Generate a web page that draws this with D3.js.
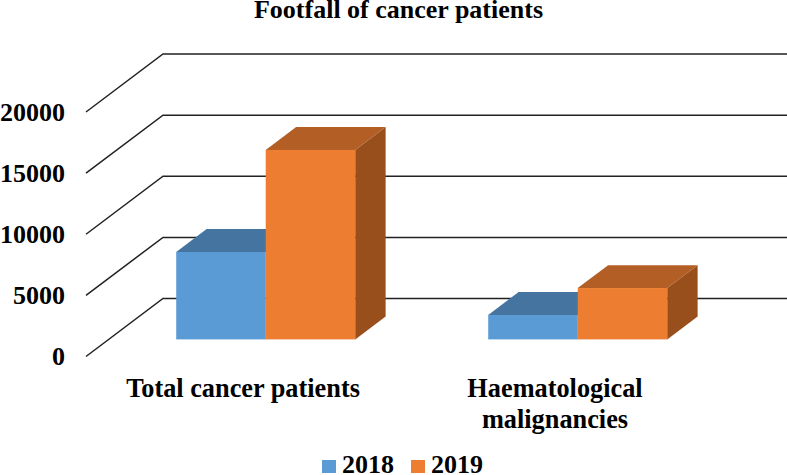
<!DOCTYPE html>
<html>
<head>
<meta charset="utf-8">
<script src="https://cdn.jsdelivr.net/npm/d3@7"></script>
<style>
body { margin: 0; background: #fff; }
svg { display: block; }
text { font-family: "Liberation Serif", serif; font-weight: bold; fill: #000; }
</style>
</head>
<body>
<script>
var categories = ["Total cancer patients", "Haematological malignancies"];
var seriesNames = ["2018", "2019"];
var values2018 = [7150, 2000];
var values2019 = [15500, 4200];
var yTicks = [0, 5000, 10000, 15000, 20000];
var frontColors = ["#5b9bd5", "#ed7d31"];
var topColors = ["#44749f", "#b25e25"];
var sideColors = ["#3e6b94", "#984f1c"];

var width = 787, height = 475;
var svg = d3.select("body").append("svg").attr("width", width).attr("height", height);

var y = d3.scaleLinear().domain([0, 20000]).range([356.5, 112]);
var x0 = d3.scaleBand().domain(categories).range([87, 711]);
var x1 = d3.scaleBand().domain(seriesNames).range([0, x0.bandwidth()]).paddingOuter(0.743).paddingInner(0);
// depth goes 0 (front of floor) to 1 (back wall)
var depthX = d3.scaleLinear().domain([0, 1]).range([0, 77]);
var depthY = d3.scaleLinear().domain([0, 1]).range([0, -58]);
var barFront = 0.295, barBack = 0.69;

// walls
var grid = svg.append("g");
yTicks.forEach(function (t) {
    grid.append("path")
        .attr("d", d3.line()([
            [x0.range()[0] - 1, y(t)],
            [x0.range()[0] - 1 + depthX(1), y(t) + depthY(1)],
            [x0.range()[1] + depthX(1) - 1, y(t) + depthY(1)]
        ]))
        .attr("fill", "none").attr("stroke", "#222").attr("stroke-width", 1.5);
});

// bars
var bars = svg.append("g");
categories.forEach(function (cat, i) {
    [values2018[i], values2019[i]].forEach(function (v, s) {
        var left = x0(cat) + x1(seriesNames[s]) + depthX(barFront);
        var right = left + x1.bandwidth();
        var base = y(0) + depthY(barFront);
        var top = y(v) + depthY(barFront);
        var dx = depthX(barBack) - depthX(barFront);
        var dy = depthY(barBack) - depthY(barFront);
        var g = bars.append("g");
        g.append("path")
            .attr("d", d3.line()([[right, top], [right + dx, top + dy], [right + dx, base + dy], [right, base]]) + "Z")
            .attr("fill", sideColors[s]);
        g.append("path")
            .attr("d", d3.line()([[left, top], [left + dx, top + dy], [right + dx, top + dy], [right, top]]) + "Z")
            .attr("fill", topColors[s]);
        g.append("rect")
            .attr("x", left).attr("y", top)
            .attr("width", x1.bandwidth()).attr("height", base - top)
            .attr("fill", frontColors[s]);
    });
});

// y axis
var yAxis = svg.append("g")
    .attr("transform", "translate(65,0)")
    .call(d3.axisLeft(y).tickValues(yTicks).tickSize(0).tickPadding(0).tickFormat(d3.format("d")));
yAxis.select(".domain").remove();
yAxis.selectAll("text").style("font-size", "26px").attr("dy", "0.32em")
    .style("font-family", '"Liberation Serif", serif');

// category labels
var catLines = [["Total cancer patients"], ["Haematological", "malignancies"]];
categories.forEach(function (cat, i) {
    var cx = x0(cat) + x0.bandwidth() / 2;
    catLines[i].forEach(function (line, k) {
        svg.append("text").attr("x", cx).attr("y", 397 + k * 31)
            .attr("text-anchor", "middle").style("font-size", "26.3px").text(line);
    });
});

// title
svg.append("text").attr("x", 398.5).attr("y", 18).attr("text-anchor", "middle")
    .style("font-size", "26px").text("Footfall of cancer patients");

// legend
var legendX = d3.scaleOrdinal().domain(seriesNames).range([322, 411]);
seriesNames.forEach(function (name, s) {
    svg.append("rect").attr("x", legendX(name)).attr("y", 460)
        .attr("width", 14).attr("height", 13).attr("fill", frontColors[s]);
    svg.append("text").attr("x", legendX(name) + 20).attr("y", 473)
        .style("font-size", "26px").text(name);
});
</script>
</body>
</html>
